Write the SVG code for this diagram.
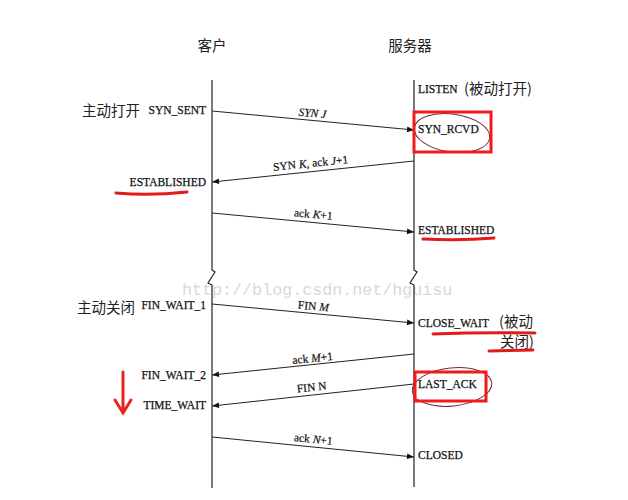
<svg xmlns="http://www.w3.org/2000/svg" width="628" height="500" viewBox="0 0 628 500">
<defs>
<style>
.t{font-family:"Liberation Serif","Times New Roman",serif;font-size:11.5px;fill:#111;stroke:#111;stroke-width:0.25}
.cn{font-family:"Noto Sans CJK SC","Liberation Serif",sans-serif;font-size:14.5px;fill:#222}
.lbl{font-family:"Liberation Serif","Times New Roman",serif;font-size:11.5px;fill:#111;stroke:#111;stroke-width:0.2}
.i{font-style:italic}
.life{fill:none;stroke:#222;stroke-width:1.2}
.msg{fill:none;stroke:#222;stroke-width:1;marker-end:url(#ah)}
.red{fill:none;stroke:#ee1c1c;stroke-width:3}
.ul{fill:none;stroke:#e21a1a;stroke-width:3;stroke-linecap:round}
.scr{fill:none;stroke:#7a2a3a;stroke-width:1}
.wm{font-family:"Liberation Mono","DejaVu Sans Mono",monospace;font-size:16.7px;fill:#d9d9d9}
</style>
<marker id="ah" viewBox="0 0 10 10" refX="10" refY="5" markerWidth="9" markerHeight="7" markerUnits="userSpaceOnUse" orient="auto">
<path d="M0,1 L10,5 L0,9 z" fill="#111"/>
</marker>
</defs>
<rect width="628" height="500" fill="#fff"/>
<text class="wm" x="182" y="295">http://blog.csdn.net/hguisu</text>
<g id="client">
<text class="cn" x="212" y="51" text-anchor="middle">客户</text>
<path class="life" d="M212,80 V270 L215,272 L208,283 L212,285 V488"/>
</g>
<g id="server">
<text class="cn" x="410" y="51" text-anchor="middle">服务器</text>
<path class="life" d="M414,80 V270 L417,272 L410,283 L414,285 V487"/>
</g>
<g id="client-states">
<text class="cn" x="82" y="116">主动打开</text>
<text class="t" x="206" y="114" text-anchor="end">SYN_SENT</text>
<text class="t" x="206" y="186" text-anchor="end">ESTABLISHED</text>
<text class="cn" x="77" y="313">主动关闭</text>
<text class="t" x="206" y="309" text-anchor="end">FIN_WAIT_1</text>
<text class="t" x="206" y="379" text-anchor="end">FIN_WAIT_2</text>
<text class="t" x="206" y="409" text-anchor="end">TIME_WAIT</text>
</g>
<g id="server-states">
<text class="t" x="418" y="93">LISTEN</text>
<text class="cn" x="464" y="94">(被动打开)</text>
<text class="t" x="418" y="133">SYN_RCVD</text>
<text class="t" x="418" y="234">ESTABLISHED</text>
<text class="t" x="418" y="327">CLOSE_WAIT</text>
<text class="cn" x="499" y="327">(被动</text>
<text class="cn" x="500" y="347">关闭)</text>
<text class="t" x="418" y="388">LAST_ACK</text>
<text class="t" x="418" y="459">CLOSED</text>
</g>
<g id="connectors">
<line class="msg" x1="212" y1="111" x2="414" y2="130"/>
<line class="msg" x1="414" y1="161" x2="212" y2="182"/>
<line class="msg" x1="212" y1="213" x2="414" y2="232"/>
<line class="msg" x1="212" y1="304" x2="414" y2="323"/>
<line class="msg" x1="414" y1="354" x2="212" y2="375"/>
<line class="msg" x1="414" y1="384" x2="212" y2="406"/>
<line class="msg" x1="212" y1="437" x2="414" y2="457"/>
</g>
<g id="labels">
<text class="lbl i" x="312" y="117" text-anchor="middle" transform="rotate(5.4 312 117)">SYN J</text>
<text class="lbl" x="311" y="167" text-anchor="middle" transform="rotate(-5.9 311 167)">SYN <tspan class="i">K</tspan>, ack <tspan class="i">J</tspan>+1</text>
<text class="lbl" x="313" y="218" text-anchor="middle" transform="rotate(5.4 313 218)">ack <tspan class="i">K</tspan>+1</text>
<text class="lbl" x="313" y="310" text-anchor="middle" transform="rotate(5.4 313 310)">FIN <tspan class="i">M</tspan></text>
<text class="lbl" x="313" y="362" text-anchor="middle" transform="rotate(-5.9 313 362)">ack <tspan class="i">M</tspan>+1</text>
<text class="lbl" x="312" y="391" text-anchor="middle" transform="rotate(-6.2 312 391)">FIN N</text>
<text class="lbl" x="313" y="443" text-anchor="middle" transform="rotate(5.7 313 443)">ack <tspan class="i">N</tspan>+1</text>
</g>
<g id="annotations">
<ellipse class="scr" cx="452" cy="133" rx="38" ry="19" transform="rotate(8 452 133)"/>
<rect class="red" x="414" y="112" width="77" height="40"/>
<ellipse class="scr" cx="452" cy="387" rx="40" ry="19" transform="rotate(-6 452 387)"/>
<rect class="red" x="415" y="372" width="71" height="29"/>
<path class="ul" d="M116,193 Q150,196 187,192"/>
<path class="ul" d="M423,239 Q460,241 494,238"/>
<path class="ul" d="M433,334 Q480,332 535,333"/>
<path class="ul" d="M489,351 L533,350"/>
<path fill="none" stroke="#e8241e" stroke-width="3" stroke-linecap="round" d="M123,372 V412 M115,400 L123,413 L131,400"/>
</g>
</svg>
